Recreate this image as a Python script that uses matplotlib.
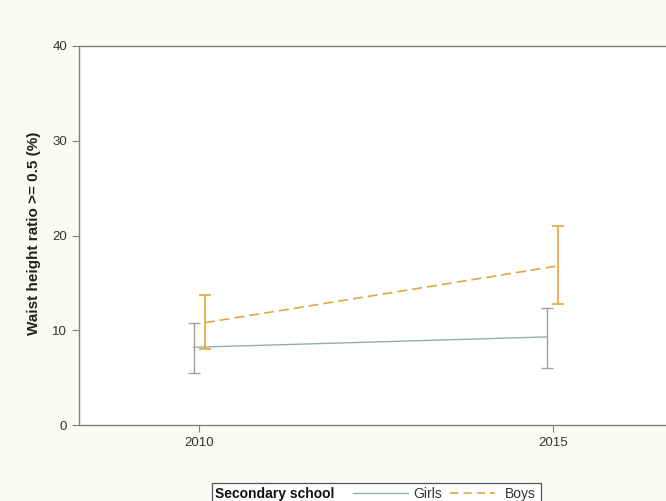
import matplotlib
matplotlib.use("Agg")
import matplotlib.pyplot as plt
from matplotlib.lines import Line2D
from matplotlib.patches import Rectangle

plt.rcParams['font.family'] = ['Liberation Sans', 'DejaVu Sans']

years = [2010, 2015]
girls = [8.2, 9.3]
girls_lo = [5.5, 6.0]
girls_hi = [10.8, 12.3]
boys = [10.8, 16.8]
boys_lo = [8.0, 12.8]
boys_hi = [13.7, 21.0]

girls_col = "#8fb0ad"
girls_ci = "#a0a0a0"
boys_col = "#e8a53c"

W, H = 666, 501
fig = plt.figure(figsize=(6.66, 5.01), dpi=100, facecolor="#fbfbf6")
ax = fig.add_axes([79 / W, 1 - 425 / H, (673 - 79) / W, (425 - 46) / H])
ax.set_facecolor("white")

off = 0.08
gx = [y - off for y in years]
bx = [y + off for y in years]

ax.plot(gx, girls, color=girls_col, lw=1.0)
ax.errorbar(gx, girls, yerr=[[g - l for g, l in zip(girls, girls_lo)],
                             [h - g for g, h in zip(girls, girls_hi)]],
            fmt="none", ecolor=girls_ci, elinewidth=1.0, capsize=4, capthick=1.0)
ax.plot(bx, boys, color=boys_col, lw=1.2, dashes=(6, 3))
ax.errorbar(bx, boys, yerr=[[b - l for b, l in zip(boys, boys_lo)],
                            [h - b for b, h in zip(boys, boys_hi)]],
            fmt="none", ecolor=boys_col, elinewidth=1.2, capsize=4, capthick=1.2)

ax.set_xlim(2008.3, 2016.7)
ax.set_ylim(0, 40)
ax.set_xticks(years)
ax.set_yticks([0, 10, 20, 30, 40])
ax.tick_params(direction="out", length=5, width=0.8, colors="#8a8078",
               labelcolor="#333333", labelsize=9.5)
for s in ax.spines.values():
    s.set_color("#8a8078")
    s.set_linewidth(1.0)
ax.set_ylabel("Waist height ratio >= 0.5 (%)", fontsize=11, fontweight="bold",
              color="#222222")
ax.yaxis.set_label_coords(41 / W, 1 - 233 / H, transform=fig.transFigure)

# legend drawn by hand (Stata-style, bottom edge cut off)
def fx(px):
    return px / W

def fy(py):
    return 1 - py / H

fig.patches.append(Rectangle((fx(212), fy(503)), fx(541) - fx(212), fy(483) - fy(503),
                             transform=fig.transFigure, facecolor="white",
                             edgecolor="#555555", lw=0.9))
base = fy(498)
mid = fy(493)
fig.text(fx(215), base, "Secondary school", fontsize=10, fontweight="bold",
         color="#111111", va="baseline")
fig.add_artist(Line2D([fx(353), fx(408)], [mid, mid], color=girls_col, lw=1.0,
                      transform=fig.transFigure))
fig.text(fx(413), base, "Girls", fontsize=10, color="#333333", va="baseline")
fig.add_artist(Line2D([fx(450), fx(495)], [mid, mid], color=boys_col, lw=1.2,
                      dashes=(5, 3), transform=fig.transFigure))
fig.text(fx(505), base, "Boys", fontsize=10, color="#333333", va="baseline")

fig.savefig("out.png", dpi=100, facecolor=fig.get_facecolor())
